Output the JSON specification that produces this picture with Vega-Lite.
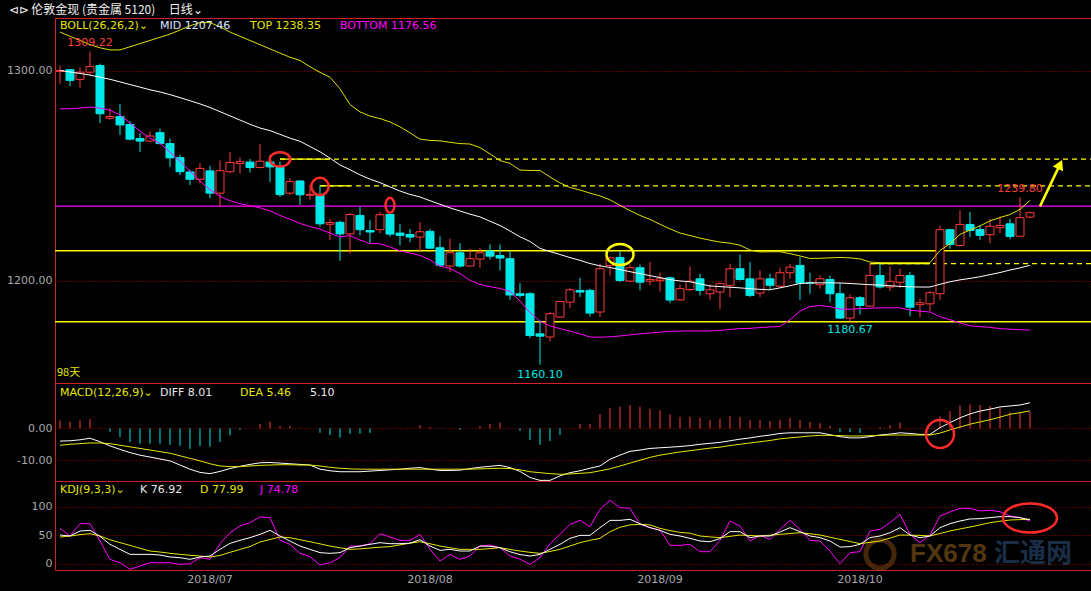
{
"$schema":"https://vega.github.io/schema/vega-lite/v6.json",
"background":"#000000",
"padding":{"top":3,"left":0,"right":0,"bottom":0},
"title":{"text":"⊲⊳ 伦敦金现 (贵金属 5120)\u00a0\u00a0\u00a0\u00a0\u00a0日线⌄","anchor":"start","frame":"bounds","offset":4,"fontSize":12,"font":"Noto Sans CJK SC","fontWeight":"normal","color":"#f0f0f0","dx":8,"dy":3,"baseline":"top"},
"spacing":0,
"bounds":"flush",
"resolve":{"scale":{"color":"independent"}},
"datasets":{
"future":[{"date":"2018-10-25"},{"date":"2018-10-26"},{"date":"2018-10-29"},{"date":"2018-10-30"},{"date":"2018-10-31"}],
"k":[
{"date":"2018-06-11","o":1299.8,"h":1302.6,"l":1293.9,"c":1300.2,"mid":1300.2,"top":1318.5,"bot":1282.0,"diff":-4.0,"dea":-5.3,"macd":2.5,"K":50.3,"D":46.8,"J":62.0},
{"date":"2018-06-12","o":1300.6,"h":1300.9,"l":1292.8,"c":1295.5,"mid":1299.5,"top":1316.5,"bot":1282.0,"diff":-3.9,"dea":-5.0,"macd":2.1,"K":48.6,"D":48.5,"J":48.6},
{"date":"2018-06-13","o":1296.0,"h":1301.7,"l":1292.0,"c":1299.4,"mid":1298.8,"top":1314.5,"bot":1282.3,"diff":-3.6,"dea":-4.8,"macd":2.5,"K":57.3,"D":51.0,"J":70.2},
{"date":"2018-06-14","o":1299.4,"h":1309.22,"l":1298.0,"c":1302.1,"mid":1298.0,"top":1312.5,"bot":1282.8,"diff":-3.1,"dea":-4.6,"macd":2.9,"K":58.5,"D":52.7,"J":70.2},
{"date":"2018-06-15","o":1302.6,"h":1303.5,"l":1275.2,"c":1279.6,"mid":1297.0,"top":1311.0,"bot":1282.3,"diff":-4.2,"dea":-4.6,"macd":0.1,"K":48.0,"D":48.6,"J":39.8},
{"date":"2018-06-18","o":1277.5,"h":1282.4,"l":1276.7,"c":1278.3,"mid":1296.0,"top":1310.0,"bot":1281.3,"diff":-5.5,"dea":-4.8,"macd":-1.1,"K":34.0,"D":42.0,"J":7.7},
{"date":"2018-06-19","o":1278.3,"h":1284.3,"l":1269.5,"c":1274.3,"mid":1294.8,"top":1310.0,"bot":1279.0,"diff":-6.6,"dea":-5.3,"macd":-2.7,"K":25.2,"D":37.0,"J":1.8},
{"date":"2018-06-20","o":1274.5,"h":1276.1,"l":1267.0,"c":1267.5,"mid":1293.5,"top":1311.5,"bot":1275.2,"diff":-7.6,"dea":-5.8,"macd":-4.3,"K":16.4,"D":32.2,"J":-9.9},
{"date":"2018-06-21","o":1267.8,"h":1270.4,"l":1261.4,"c":1266.6,"mid":1292.3,"top":1313.0,"bot":1271.3,"diff":-8.4,"dea":-6.3,"macd":-4.8,"K":16.4,"D":27.0,"J":-4.0},
{"date":"2018-06-22","o":1266.6,"h":1271.2,"l":1266.2,"c":1269.0,"mid":1291.0,"top":1314.5,"bot":1268.0,"diff":-9.0,"dea":-6.8,"macd":-4.8,"K":16.4,"D":22.3,"J":1.8},
{"date":"2018-06-25","o":1270.6,"h":1272.5,"l":1265.0,"c":1265.4,"mid":1290.0,"top":1316.0,"bot":1265.5,"diff":-9.6,"dea":-7.3,"macd":-4.8,"K":15.3,"D":20.5,"J":1.8},
{"date":"2018-06-26","o":1265.4,"h":1267.8,"l":1254.3,"c":1258.6,"mid":1288.7,"top":1317.5,"bot":1261.3,"diff":-10.2,"dea":-7.8,"macd":-5.2,"K":11.8,"D":18.3,"J":1.8},
{"date":"2018-06-27","o":1258.7,"h":1260.1,"l":1250.4,"c":1252.0,"mid":1287.3,"top":1319.5,"bot":1257.0,"diff":-11.5,"dea":-8.6,"macd":-5.5,"K":10.6,"D":16.4,"J":-1.1},
{"date":"2018-06-28","o":1251.9,"h":1252.9,"l":1245.7,"c":1248.4,"mid":1285.8,"top":1321.5,"bot":1252.3,"diff":-12.8,"dea":-9.4,"macd":-6.4,"K":7.7,"D":14.8,"J":0.0},
{"date":"2018-06-29","o":1248.4,"h":1256.0,"l":1246.5,"c":1253.6,"mid":1284.3,"top":1323.0,"bot":1247.5,"diff":-13.8,"dea":-10.2,"macd":-5.5,"K":11.8,"D":13.5,"J":10.6},
{"date":"2018-07-02","o":1252.4,"h":1254.8,"l":1239.4,"c":1241.8,"mid":1282.6,"top":1323.0,"bot":1243.5,"diff":-14.2,"dea":-11.1,"macd":-5.7,"K":13.5,"D":11.8,"J":7.7},
{"date":"2018-07-03","o":1241.8,"h":1257.4,"l":1235.4,"c":1252.5,"mid":1280.6,"top":1321.0,"bot":1240.2,"diff":-13.5,"dea":-11.8,"macd":-4.3,"K":25.2,"D":14.5,"J":35.1},
{"date":"2018-07-04","o":1252.0,"h":1261.4,"l":1251.5,"c":1256.4,"mid":1278.6,"top":1318.5,"bot":1238.2,"diff":-12.6,"dea":-12.0,"macd":-2.2,"K":35.7,"D":20.0,"J":54.4},
{"date":"2018-07-05","o":1255.9,"h":1258.9,"l":1251.1,"c":1256.8,"mid":1276.6,"top":1316.5,"bot":1236.8,"diff":-11.9,"dea":-12.0,"macd":-0.5,"K":41.0,"D":25.0,"J":66.1},
{"date":"2018-07-06","o":1256.6,"h":1258.0,"l":1251.6,"c":1254.0,"mid":1274.6,"top":1314.5,"bot":1235.8,"diff":-11.3,"dea":-11.8,"macd":0.0,"K":45.7,"D":30.0,"J":72.0},
{"date":"2018-07-09","o":1254.0,"h":1265.3,"l":1253.6,"c":1257.0,"mid":1272.8,"top":1312.5,"bot":1234.8,"diff":-10.8,"dea":-11.6,"macd":1.4,"K":51.5,"D":38.1,"J":81.9},
{"date":"2018-07-10","o":1256.6,"h":1259.9,"l":1247.1,"c":1254.3,"mid":1271.6,"top":1310.5,"bot":1233.4,"diff":-10.7,"dea":-11.5,"macd":2.1,"K":58.5,"D":42.5,"J":80.8},
{"date":"2018-07-11","o":1254.3,"h":1256.8,"l":1240.0,"c":1241.1,"mid":1269.8,"top":1308.5,"bot":1231.2,"diff":-10.9,"dea":-11.4,"macd":0.7,"K":48.6,"D":46.8,"J":41.0},
{"date":"2018-07-12","o":1241.8,"h":1248.9,"l":1241.0,"c":1247.3,"mid":1268.0,"top":1306.5,"bot":1229.3,"diff":-11.1,"dea":-11.4,"macd":0.7,"K":39.8,"D":45.6,"J":34.0},
{"date":"2018-07-13","o":1247.6,"h":1248.0,"l":1236.2,"c":1241.0,"mid":1266.5,"top":1305.0,"bot":1227.4,"diff":-11.3,"dea":-11.5,"macd":0.1,"K":31.0,"D":42.0,"J":18.2},
{"date":"2018-07-16","o":1240.8,"h":1245.7,"l":1238.6,"c":1241.2,"mid":1264.0,"top":1302.0,"bot":1225.9,"diff":-11.5,"dea":-11.5,"macd":0.0,"K":25.2,"D":38.6,"J":12.3},
{"date":"2018-07-17","o":1241.0,"h":1245.7,"l":1225.9,"c":1227.2,"mid":1261.5,"top":1299.3,"bot":1224.6,"diff":-12.8,"dea":-11.8,"macd":-1.4,"K":19.4,"D":34.8,"J":-2.3},
{"date":"2018-07-18","o":1227.0,"h":1229.4,"l":1219.4,"c":1227.8,"mid":1258.5,"top":1297.0,"bot":1222.8,"diff":-13.3,"dea":-12.2,"macd":-2.1,"K":18.2,"D":31.0,"J":1.8},
{"date":"2018-07-19","o":1227.9,"h":1228.7,"l":1209.6,"c":1222.4,"mid":1255.2,"top":1291.5,"bot":1220.9,"diff":-13.6,"dea":-12.5,"macd":-2.9,"K":19.4,"D":28.0,"J":10.6},
{"date":"2018-07-20","o":1222.4,"h":1232.4,"l":1213.1,"c":1231.6,"mid":1253.0,"top":1284.0,"bot":1221.6,"diff":-13.6,"dea":-12.7,"macd":-1.7,"K":28.1,"D":25.2,"J":31.0},
{"date":"2018-07-23","o":1231.2,"h":1235.2,"l":1221.7,"c":1224.4,"mid":1250.5,"top":1280.5,"bot":1219.4,"diff":-13.6,"dea":-12.8,"macd":-1.7,"K":31.0,"D":26.0,"J":31.0},
{"date":"2018-07-24","o":1224.0,"h":1229.1,"l":1217.7,"c":1223.3,"mid":1248.5,"top":1278.5,"bot":1217.8,"diff":-13.4,"dea":-12.8,"macd":-1.4,"K":34.0,"D":27.5,"J":35.1},
{"date":"2018-07-25","o":1224.4,"h":1232.8,"l":1222.8,"c":1231.5,"mid":1246.8,"top":1277.3,"bot":1217.7,"diff":-13.2,"dea":-12.8,"macd":0.0,"K":36.9,"D":29.0,"J":52.7},
{"date":"2018-07-26","o":1231.7,"h":1232.0,"l":1221.2,"c":1222.3,"mid":1244.8,"top":1275.7,"bot":1216.2,"diff":-13.0,"dea":-12.8,"macd":0.0,"K":35.1,"D":29.9,"J":46.8},
{"date":"2018-07-27","o":1222.8,"h":1227.2,"l":1216.9,"c":1221.7,"mid":1242.8,"top":1273.4,"bot":1214.3,"diff":-12.8,"dea":-12.8,"macd":0.1,"K":35.1,"D":33.0,"J":40.9},
{"date":"2018-07-30","o":1222.1,"h":1224.8,"l":1218.5,"c":1220.9,"mid":1241.2,"top":1270.5,"bot":1213.3,"diff":-12.5,"dea":-12.8,"macd":0.1,"K":36.0,"D":36.0,"J":40.9},
{"date":"2018-07-31","o":1220.9,"h":1228.0,"l":1214.2,"c":1223.4,"mid":1240.0,"top":1267.5,"bot":1212.2,"diff":-12.3,"dea":-12.8,"macd":1.0,"K":42.2,"D":38.6,"J":51.5},
{"date":"2018-08-01","o":1223.6,"h":1224.8,"l":1215.3,"c":1215.6,"mid":1238.2,"top":1266.9,"bot":1210.0,"diff":-12.8,"dea":-12.8,"macd":0.4,"K":31.0,"D":35.0,"J":25.2},
{"date":"2018-08-02","o":1215.8,"h":1221.2,"l":1206.6,"c":1207.5,"mid":1236.5,"top":1266.7,"bot":1207.1,"diff":-13.2,"dea":-12.8,"macd":-0.1,"K":23.4,"D":31.0,"J":4.7},
{"date":"2018-08-03","o":1207.1,"h":1220.1,"l":1204.2,"c":1213.4,"mid":1234.8,"top":1266.0,"bot":1205.9,"diff":-13.2,"dea":-12.8,"macd":0.0,"K":25.2,"D":28.0,"J":16.4},
{"date":"2018-08-06","o":1213.4,"h":1218.0,"l":1206.3,"c":1207.1,"mid":1233.3,"top":1265.4,"bot":1203.5,"diff":-13.1,"dea":-12.8,"macd":-0.5,"K":22.3,"D":25.2,"J":7.7},
{"date":"2018-08-07","o":1207.1,"h":1215.3,"l":1206.8,"c":1210.6,"mid":1231.8,"top":1265.2,"bot":1200.3,"diff":-12.6,"dea":-12.8,"macd":0.0,"K":22.3,"D":25.2,"J":13.5},
{"date":"2018-08-08","o":1210.4,"h":1215.8,"l":1206.3,"c":1213.4,"mid":1230.5,"top":1263.5,"bot":1198.3,"diff":-12.2,"dea":-12.7,"macd":0.7,"K":31.0,"D":25.2,"J":31.0},
{"date":"2018-08-09","o":1214.2,"h":1217.4,"l":1210.2,"c":1211.8,"mid":1228.4,"top":1260.5,"bot":1197.3,"diff":-11.9,"dea":-12.6,"macd":1.4,"K":30.5,"D":26.5,"J":32.8},
{"date":"2018-08-10","o":1212.1,"h":1217.4,"l":1205.0,"c":1210.9,"mid":1226.4,"top":1257.3,"bot":1196.4,"diff":-11.6,"dea":-12.5,"macd":1.8,"K":28.1,"D":28.1,"J":28.1},
{"date":"2018-08-13","o":1210.6,"h":1214.2,"l":1191.0,"c":1193.3,"mid":1223.8,"top":1256.0,"bot":1195.0,"diff":-12.3,"dea":-12.6,"macd":0.0,"K":21.0,"D":25.0,"J":13.5},
{"date":"2018-08-14","o":1193.9,"h":1199.0,"l":1192.0,"c":1193.1,"mid":1221.0,"top":1252.8,"bot":1190.5,"diff":-13.5,"dea":-13.0,"macd":-0.8,"K":16.0,"D":22.3,"J":8.0},
{"date":"2018-08-15","o":1193.9,"h":1194.7,"l":1172.9,"c":1174.0,"mid":1218.8,"top":1252.6,"bot":1185.0,"diff":-15.4,"dea":-13.6,"macd":-3.7,"K":13.5,"D":20.0,"J":-1.1},
{"date":"2018-08-16","o":1174.8,"h":1181.2,"l":1160.1,"c":1173.7,"mid":1215.5,"top":1252.6,"bot":1180.8,"diff":-16.3,"dea":-13.9,"macd":-5.2,"K":16.4,"D":18.2,"J":10.6},
{"date":"2018-08-17","o":1173.3,"h":1185.2,"l":1171.3,"c":1184.4,"mid":1214.0,"top":1249.5,"bot":1178.6,"diff":-16.3,"dea":-14.2,"macd":-4.0,"K":25.2,"D":21.5,"J":35.1},
{"date":"2018-08-20","o":1182.8,"h":1190.7,"l":1182.5,"c":1190.2,"mid":1212.6,"top":1246.7,"bot":1177.3,"diff":-14.9,"dea":-14.4,"macd":-2.1,"K":34.0,"D":25.2,"J":51.5},
{"date":"2018-08-21","o":1189.9,"h":1196.6,"l":1187.1,"c":1195.8,"mid":1211.1,"top":1244.5,"bot":1176.1,"diff":-13.9,"dea":-14.3,"macd":0.0,"K":44.5,"D":31.0,"J":69.0},
{"date":"2018-08-22","o":1195.5,"h":1201.5,"l":1192.3,"c":1194.7,"mid":1209.8,"top":1243.3,"bot":1174.8,"diff":-13.3,"dea":-14.1,"macd":1.4,"K":49.7,"D":36.9,"J":76.0},
{"date":"2018-08-23","o":1195.5,"h":1196.3,"l":1183.1,"c":1184.7,"mid":1208.3,"top":1241.8,"bot":1173.3,"diff":-12.5,"dea":-13.9,"macd":1.4,"K":49.7,"D":41.0,"J":64.9},
{"date":"2018-08-24","o":1185.2,"h":1208.2,"l":1182.8,"c":1205.8,"mid":1207.2,"top":1240.5,"bot":1173.2,"diff":-11.8,"dea":-13.3,"macd":4.4,"K":63.2,"D":44.5,"J":95.4},
{"date":"2018-08-27","o":1207.4,"h":1211.7,"l":1202.6,"c":1211.0,"mid":1206.4,"top":1238.6,"bot":1173.4,"diff":-9.7,"dea":-12.7,"macd":6.4,"K":76.0,"D":56.0,"J":111.2},
{"date":"2018-08-28","o":1211.2,"h":1214.2,"l":1199.4,"c":1200.2,"mid":1205.4,"top":1236.0,"bot":1173.8,"diff":-8.4,"dea":-11.8,"macd":6.8,"K":76.0,"D":64.0,"J":98.3},
{"date":"2018-08-29","o":1199.9,"h":1207.9,"l":1199.4,"c":1206.3,"mid":1204.4,"top":1233.5,"bot":1174.3,"diff":-7.2,"dea":-10.9,"macd":7.3,"K":77.8,"D":68.0,"J":97.1},
{"date":"2018-08-30","o":1206.3,"h":1207.9,"l":1195.5,"c":1199.4,"mid":1203.5,"top":1231.2,"bot":1174.8,"diff":-6.8,"dea":-10.0,"macd":6.8,"K":70.2,"D":69.0,"J":69.0},
{"date":"2018-08-31","o":1199.9,"h":1209.0,"l":1197.9,"c":1200.7,"mid":1202.5,"top":1229.3,"bot":1175.2,"diff":-6.3,"dea":-9.1,"macd":6.1,"K":63.2,"D":68.0,"J":63.2},
{"date":"2018-09-03","o":1200.1,"h":1204.0,"l":1195.0,"c":1201.0,"mid":1201.6,"top":1227.0,"bot":1175.6,"diff":-6.1,"dea":-8.4,"macd":5.7,"K":58.5,"D":62.0,"J":59.1},
{"date":"2018-09-04","o":1201.5,"h":1202.1,"l":1189.4,"c":1190.9,"mid":1200.6,"top":1224.8,"bot":1176.0,"diff":-5.9,"dea":-7.9,"macd":4.4,"K":51.5,"D":58.0,"J":32.2},
{"date":"2018-09-05","o":1191.0,"h":1198.3,"l":1190.4,"c":1196.3,"mid":1200.0,"top":1222.8,"bot":1176.1,"diff":-5.7,"dea":-7.4,"macd":3.6,"K":48.6,"D":55.0,"J":32.2},
{"date":"2018-09-06","o":1195.9,"h":1206.9,"l":1195.2,"c":1199.9,"mid":1199.6,"top":1221.6,"bot":1176.2,"diff":-5.4,"dea":-7.0,"macd":3.6,"K":44.5,"D":53.5,"J":34.0},
{"date":"2018-09-07","o":1201.0,"h":1203.4,"l":1193.1,"c":1195.5,"mid":1198.6,"top":1220.4,"bot":1176.2,"diff":-5.0,"dea":-6.6,"macd":3.3,"K":39.8,"D":48.6,"J":21.1},
{"date":"2018-09-10","o":1193.9,"h":1198.3,"l":1191.0,"c":1195.8,"mid":1197.6,"top":1219.4,"bot":1176.2,"diff":-4.7,"dea":-6.2,"macd":2.6,"K":38.6,"D":47.0,"J":21.1},
{"date":"2018-09-11","o":1194.7,"h":1199.4,"l":1186.7,"c":1198.7,"mid":1197.3,"top":1218.5,"bot":1176.4,"diff":-4.4,"dea":-5.9,"macd":3.0,"K":44.0,"D":45.7,"J":40.9},
{"date":"2018-09-12","o":1197.9,"h":1208.2,"l":1192.3,"c":1205.8,"mid":1197.0,"top":1218.0,"bot":1176.9,"diff":-3.9,"dea":-5.4,"macd":3.8,"K":56.2,"D":48.0,"J":74.9},
{"date":"2018-09-13","o":1205.8,"h":1212.6,"l":1200.2,"c":1200.7,"mid":1196.7,"top":1217.0,"bot":1177.3,"diff":-3.4,"dea":-5.0,"macd":3.6,"K":56.2,"D":50.3,"J":66.1},
{"date":"2018-09-14","o":1201.0,"h":1209.0,"l":1192.3,"c":1193.1,"mid":1196.3,"top":1214.7,"bot":1177.4,"diff":-3.0,"dea":-4.6,"macd":2.6,"K":45.7,"D":49.5,"J":39.8},
{"date":"2018-09-17","o":1194.2,"h":1205.0,"l":1192.3,"c":1201.0,"mid":1196.0,"top":1213.8,"bot":1177.8,"diff":-2.5,"dea":-4.2,"macd":2.6,"K":48.6,"D":48.6,"J":49.7},
{"date":"2018-09-18","o":1201.0,"h":1203.4,"l":1195.8,"c":1197.9,"mid":1195.8,"top":1213.9,"bot":1178.1,"diff":-2.1,"dea":-3.8,"macd":2.3,"K":48.6,"D":50.0,"J":42.7},
{"date":"2018-09-19","o":1197.5,"h":1206.3,"l":1197.1,"c":1203.9,"mid":1196.7,"top":1213.9,"bot":1178.3,"diff":-1.6,"dea":-3.3,"macd":2.6,"K":55.6,"D":51.5,"J":60.2},
{"date":"2018-09-20","o":1203.9,"h":1208.2,"l":1201.0,"c":1206.6,"mid":1197.7,"top":1213.0,"bot":1181.6,"diff":-1.4,"dea":-3.0,"macd":3.3,"K":63.2,"D":53.0,"J":76.0},
{"date":"2018-09-21","o":1207.4,"h":1211.3,"l":1191.0,"c":1199.0,"mid":1198.8,"top":1211.9,"bot":1185.6,"diff":-1.4,"dea":-2.7,"macd":2.6,"K":56.2,"D":54.4,"J":60.2},
{"date":"2018-09-24","o":1199.2,"h":1203.9,"l":1193.9,"c":1199.0,"mid":1199.0,"top":1210.7,"bot":1187.8,"diff":-1.4,"dea":-2.4,"macd":2.0,"K":48.6,"D":52.5,"J":40.9},
{"date":"2018-09-25","o":1198.2,"h":1202.6,"l":1196.3,"c":1201.0,"mid":1199.1,"top":1210.8,"bot":1188.3,"diff":-1.4,"dea":-2.2,"macd":1.6,"K":45.7,"D":50.3,"J":39.8},
{"date":"2018-09-26","o":1200.7,"h":1202.6,"l":1189.9,"c":1193.9,"mid":1199.1,"top":1211.0,"bot":1187.7,"diff":-2.0,"dea":-2.2,"macd":0.7,"K":39.8,"D":46.5,"J":22.3},
{"date":"2018-09-27","o":1193.9,"h":1199.0,"l":1181.8,"c":1182.3,"mid":1199.0,"top":1211.2,"bot":1186.6,"diff":-2.6,"dea":-2.3,"macd":-1.2,"K":29.2,"D":42.7,"J":0.0},
{"date":"2018-09-28","o":1182.3,"h":1193.6,"l":1180.67,"c":1192.0,"mid":1198.8,"top":1211.0,"bot":1186.5,"diff":-3.0,"dea":-2.4,"macd":-1.2,"K":29.9,"D":39.0,"J":19.4},
{"date":"2018-10-01","o":1192.0,"h":1192.8,"l":1184.0,"c":1188.3,"mid":1198.5,"top":1210.5,"bot":1186.8,"diff":-3.0,"dea":-2.4,"macd":-1.4,"K":34.0,"D":35.1,"J":21.1},
{"date":"2018-10-02","o":1188.0,"h":1208.2,"l":1187.9,"c":1202.6,"mid":1198.2,"top":1209.0,"bot":1187.0,"diff":-2.6,"dea":-2.3,"macd":0.1,"K":45.7,"D":37.5,"J":57.3},
{"date":"2018-10-03","o":1202.6,"h":1208.2,"l":1196.3,"c":1197.1,"mid":1198.0,"top":1208.7,"bot":1187.2,"diff":-2.1,"dea":-2.2,"macd":0.4,"K":48.6,"D":39.8,"J":60.2},
{"date":"2018-10-04","o":1197.1,"h":1206.9,"l":1195.2,"c":1199.8,"mid":1197.7,"top":1208.7,"bot":1187.2,"diff":-1.8,"dea":-2.1,"macd":1.0,"K":54.4,"D":45.0,"J":71.9},
{"date":"2018-10-05","o":1199.4,"h":1205.8,"l":1196.6,"c":1202.6,"mid":1197.4,"top":1208.7,"bot":1187.2,"diff":-1.4,"dea":-2.1,"macd":1.8,"K":63.2,"D":50.3,"J":86.5},
{"date":"2018-10-08","o":1202.6,"h":1204.2,"l":1183.1,"c":1187.5,"mid":1197.2,"top":1208.7,"bot":1186.1,"diff":-1.6,"dea":-2.1,"macd":0.1,"K":50.3,"D":50.0,"J":51.5},
{"date":"2018-10-09","o":1188.7,"h":1191.5,"l":1182.8,"c":1189.6,"mid":1197.1,"top":1208.7,"bot":1185.6,"diff":-1.9,"dea":-2.1,"macd":0.0,"K":45.7,"D":49.7,"J":36.9},
{"date":"2018-10-10","o":1189.1,"h":1195.2,"l":1185.6,"c":1194.4,"mid":1197.1,"top":1208.7,"bot":1185.2,"diff":-1.9,"dea":-2.1,"macd":0.1,"K":48.6,"D":48.6,"J":50.3},
{"date":"2018-10-11","o":1193.9,"h":1226.4,"l":1191.0,"c":1224.4,"mid":1198.4,"top":1214.5,"bot":1183.0,"diff":0.2,"dea":-1.5,"macd":3.8,"K":63.2,"D":53.0,"J":83.7},
{"date":"2018-10-12","o":1224.4,"h":1224.8,"l":1215.3,"c":1217.4,"mid":1199.6,"top":1217.7,"bot":1181.5,"diff":1.8,"dea":-0.5,"macd":5.4,"K":70.2,"D":57.3,"J":90.7},
{"date":"2018-10-15","o":1216.9,"h":1233.6,"l":1216.4,"c":1226.9,"mid":1200.5,"top":1222.2,"bot":1180.0,"diff":3.3,"dea":0.4,"macd":7.2,"K":74.9,"D":61.0,"J":97.1},
{"date":"2018-10-16","o":1226.9,"h":1232.8,"l":1220.9,"c":1224.0,"mid":1201.2,"top":1224.2,"bot":1178.6,"diff":4.5,"dea":1.3,"macd":7.5,"K":78.4,"D":64.3,"J":97.1},
{"date":"2018-10-17","o":1224.5,"h":1226.4,"l":1219.6,"c":1221.7,"mid":1202.0,"top":1226.2,"bot":1178.2,"diff":5.4,"dea":2.0,"macd":7.3,"K":79.0,"D":68.0,"J":92.5},
{"date":"2018-10-18","o":1222.0,"h":1229.6,"l":1218.0,"c":1226.0,"mid":1203.0,"top":1228.6,"bot":1177.9,"diff":6.0,"dea":2.7,"macd":7.0,"K":80.8,"D":71.9,"J":93.6},
{"date":"2018-10-19","o":1225.3,"h":1230.7,"l":1222.8,"c":1226.4,"mid":1204.0,"top":1230.2,"bot":1177.3,"diff":6.7,"dea":3.5,"macd":6.4,"K":82.5,"D":74.5,"J":91.3},
{"date":"2018-10-22","o":1227.2,"h":1229.6,"l":1219.8,"c":1221.2,"mid":1205.2,"top":1231.6,"bot":1177.0,"diff":7.0,"dea":4.4,"macd":5.1,"K":82.5,"D":76.6,"J":83.7},
{"date":"2018-10-23","o":1221.3,"h":1239.8,"l":1221.3,"c":1230.1,"mid":1206.2,"top":1234.1,"bot":1176.8,"diff":7.3,"dea":4.9,"macd":4.9,"K":80.8,"D":77.3,"J":80.8},
{"date":"2018-10-24","o":1230.4,"h":1233.1,"l":1229.9,"c":1232.5,"mid":1207.46,"top":1238.35,"bot":1176.56,"diff":8.01,"dea":5.46,"macd":5.1,"K":76.92,"D":77.99,"J":74.78}
]},
"vconcat":[
{
"width":1037,"height":365,
"resolve":{"scale":{"color":"independent"}},
"layer":[
{"data":{"name":"future"},"mark":{"type":"rule","strokeOpacity":0},"encoding":{"x":{"field":"date","type":"ordinal","scale":{"type":"band","paddingInner":0.2,"paddingOuter":0.45,"align":0.111,"round":false},"axis":null}}},
{"data":{"values":[{"v":1214.4},{"v":1180.6}]},"mark":{"type":"rule","color":"#ffff00","strokeWidth":1.5},"encoding":{"y":{"field":"v","type":"quantitative","scale":{"domain":[1151.4,1325.2],"nice":false,"zero":false},"axis":{"values":[1200,1300],"format":".2f","grid":true},"title":null}}},
{"data":{"values":[{"v":1235.6}]},"mark":{"type":"rule","color":"#ff00ff","strokeWidth":1.2},"encoding":{"y":{"field":"v","type":"quantitative","title":null}}},
{"data":{"values":[{"date":"2018-07-11","v":1258.0},{"date":"2018-07-17","v":1245.3},{"date":"2018-10-02","v":1208.2}]},"mark":{"type":"rule","color":"#ffff00","strokeWidth":1.3,"strokeDash":[5,4]},"encoding":{"x":{"field":"date","type":"ordinal","axis":null},"x2":{"value":"width"},"y":{"field":"v","type":"quantitative","title":null}}},
{"data":{"values":[{"date":"2018-07-11","end":"2018-07-18","v":1258.0},{"date":"2018-07-17","end":"2018-07-20","v":1245.3},{"date":"2018-10-02","end":"2018-10-10","v":1208.2}]},"mark":{"type":"rule","color":"#ffff00","strokeWidth":1.3},"encoding":{"x":{"field":"date","type":"ordinal","axis":null},"x2":{"field":"end"},"y":{"field":"v","type":"quantitative","title":null}}},
{"data":{"name":"k"},"mark":{"type":"rule","strokeWidth":1},"encoding":{"x":{"field":"date","type":"ordinal","axis":null},"y":{"field":"l","type":"quantitative","title":null},"y2":{"field":"h"},"color":{"condition":{"test":"datum.c >= datum.o","value":"#ff3c3c"},"value":"#00e8e8"}}},
{"data":{"name":"k"},"mark":{"type":"bar","strokeWidth":1},"encoding":{"x":{"field":"date","type":"ordinal","axis":null},"y":{"field":"o","type":"quantitative","title":null},"y2":{"field":"c"},"fill":{"condition":{"test":"datum.c >= datum.o","value":"#000000"},"value":"#00e8e8"},"stroke":{"condition":{"test":"datum.c >= datum.o","value":"#ff3c3c"},"value":"#00e8e8"}}},
{"data":{"name":"k"},"mark":{"type":"line","color":"#ffffff","strokeWidth":1,"clip":true},"encoding":{"x":{"field":"date","type":"ordinal","axis":null},"y":{"field":"mid","type":"quantitative","title":null}}},
{"data":{"name":"k"},"mark":{"type":"line","color":"#e0e000","strokeWidth":1,"clip":true},"encoding":{"x":{"field":"date","type":"ordinal","axis":null},"y":{"field":"top","type":"quantitative","title":null}}},
{"data":{"name":"k"},"mark":{"type":"line","color":"#ff00ff","strokeWidth":1,"clip":true},"encoding":{"x":{"field":"date","type":"ordinal","axis":null},"y":{"field":"bot","type":"quantitative","title":null}}},
{"data":{"values":[{"date":"2018-06-11","text":"BOLL(26,26,2)⌄","series":"BOLL"},{"date":"2018-06-25","text":"MID 1207.46","series":"MID"},{"date":"2018-07-06","text":"TOP 1238.35","series":"TOP"},{"date":"2018-07-19","text":"BOTTOM 1176.56","series":"BOTTOM"}]},"mark":{"type":"text","align":"left","baseline":"middle","fontSize":11},"encoding":{"x":{"field":"date","type":"ordinal","axis":null},"y":{"datum":1321.2,"type":"quantitative"},"text":{"field":"text"},"color":{"field":"series","type":"nominal","scale":{"domain":["BOLL","MID","TOP","BOTTOM"],"range":["#e6e600","#dce6ff","#e6e600","#ff00ff"]},"legend":null}}},
{"data":{"values":[{"date":"2018-06-14","v":1313.1,"text":"1309.22","kind":"high"},{"date":"2018-08-16","v":1155.0,"text":"1160.10","kind":"low"},{"date":"2018-09-28","v":1176.4,"text":"1180.67","kind":"low"},{"date":"2018-10-23","v":1243.6,"text":"1239.80","kind":"high"}]},"mark":{"type":"text","align":"center","baseline":"middle","fontSize":11},"encoding":{"x":{"field":"date","type":"ordinal","axis":null},"y":{"field":"v","type":"quantitative","title":null},"text":{"field":"text"},"color":{"condition":{"test":"datum.kind == 'high'","value":"#ff3c3c"},"value":"#00e8e8"}}},
{"data":{"values":[{"date":"2018-06-11","v":1156.0,"text":"98天"}]},"mark":{"type":"text","align":"left","baseline":"middle","fontSize":11,"color":"#e6e600","font":"Noto Sans CJK SC","dx":-3},"encoding":{"x":{"field":"date","type":"ordinal","axis":null},"y":{"field":"v","type":"quantitative","title":null},"text":{"field":"text"}}},
{"data":{"values":[{"date":"2018-07-11","v":1257.9}]},"mark":{"type":"point","shape":"M-1,0A1,0.7,0,1,1,1,0A1,0.7,0,1,1,-1,0Z","size":420,"filled":false,"stroke":"#ff2a2a","strokeWidth":2.5,"opacity":1},"encoding":{"x":{"field":"date","type":"ordinal","axis":null},"y":{"field":"v","type":"quantitative","title":null}}},
{"data":{"values":[{"date":"2018-07-17","v":1245.0}]},"mark":{"type":"point","shape":"circle","size":300,"filled":false,"stroke":"#ff2a2a","strokeWidth":2.5,"opacity":1},"encoding":{"x":{"field":"date","type":"ordinal","axis":null},"y":{"field":"v","type":"quantitative","title":null}}},
{"data":{"values":[{"date":"2018-07-26","v":1236.0}]},"mark":{"type":"point","shape":"M0,-1A0.6,1,0,1,1,0,1A0.6,1,0,1,1,0,-1Z","size":225,"filled":false,"stroke":"#ff2a2a","strokeWidth":2.5,"opacity":1},"encoding":{"x":{"field":"date","type":"ordinal","axis":null},"y":{"field":"v","type":"quantitative","title":null}}},
{"data":{"values":[{"date":"2018-08-28","v":1212.6}]},"mark":{"type":"point","shape":"M-1,0A1,0.78,0,1,1,1,0A1,0.78,0,1,1,-1,0Z","size":729,"filled":false,"stroke":"#ffff00","strokeWidth":2.5,"opacity":1},"encoding":{"x":{"field":"date","type":"ordinal","axis":null},"y":{"field":"v","type":"quantitative","title":null}}},
{"data":{"values":[{"date":"2018-10-25","end":"2018-10-29","v":1235.5,"v2":1255.5}]},"mark":{"type":"rule","color":"#ffff00","strokeWidth":2.5},"encoding":{"x":{"field":"date","type":"ordinal","axis":null},"x2":{"field":"end"},"y":{"field":"v","type":"quantitative","title":null},"y2":{"field":"v2"}}},
{"data":{"values":[{"date":"2018-10-29","v":1255.5}]},"mark":{"type":"point","shape":"triangle-up","size":130,"filled":true,"color":"#ffff00","opacity":1,"angle":25},"encoding":{"x":{"field":"date","type":"ordinal","axis":null},"y":{"field":"v","type":"quantitative","title":null}}}
]
},
{
"width":1037,"height":98,
"layer":[
{"data":{"name":"future"},"mark":{"type":"rule","strokeOpacity":0},"encoding":{"x":{"field":"date","type":"ordinal","scale":{"type":"band","paddingInner":0.2,"paddingOuter":0.45,"align":0.111,"round":false},"axis":null}}},
{"data":{"name":"k"},"mark":{"type":"rule","strokeWidth":1},"encoding":{"x":{"field":"date","type":"ordinal","axis":null},"y":{"field":"macd","type":"quantitative","scale":{"domain":[-16.5,14.2],"nice":false,"zero":false},"axis":{"values":[0,-10],"labelExpr":"replace(format(datum.value,'.2f'),'−','-')","grid":true},"title":null},"y2":{"datum":0},"color":{"condition":{"test":"datum.macd >= 0","value":"#ff3c3c"},"value":"#00e8e8"}}},
{"data":{"name":"k"},"mark":{"type":"line","color":"#ffffff","strokeWidth":1},"encoding":{"x":{"field":"date","type":"ordinal","axis":null},"y":{"field":"diff","type":"quantitative","title":null}}},
{"data":{"name":"k"},"mark":{"type":"line","color":"#e6e600","strokeWidth":1},"encoding":{"x":{"field":"date","type":"ordinal","axis":null},"y":{"field":"dea","type":"quantitative","title":null}}},
{"data":{"values":[{"date":"2018-06-11","text":"MACD(12,26,9)⌄","series":"MACD"},{"date":"2018-06-25","text":"DIFF 8.01","series":"DIFF"},{"date":"2018-07-05","text":"DEA 5.46","series":"DEA"},{"date":"2018-07-16","text":"5.10","series":"HIST"}]},"mark":{"type":"text","align":"left","baseline":"middle","fontSize":11},"encoding":{"x":{"field":"date","type":"ordinal","axis":null},"y":{"datum":11.1,"type":"quantitative"},"text":{"field":"text"},"color":{"field":"series","type":"nominal","scale":{"domain":["MACD","DIFF","DEA","HIST"],"range":["#e6e600","#e8e8e8","#e6e600","#e8e8e8"]},"legend":null}}},
{"data":{"values":[{"date":"2018-10-11","v":-1.8}]},"mark":{"type":"point","shape":"circle","size":784,"filled":false,"stroke":"#ff2a2a","strokeWidth":2.5,"opacity":1},"encoding":{"x":{"field":"date","type":"ordinal","axis":null},"y":{"field":"v","type":"quantitative","title":null}}}
]
},
{
"width":1037,"height":89,
"layer":[
{"data":{"name":"future"},"mark":{"type":"rule","strokeOpacity":0},"encoding":{"x":{"field":"date","type":"ordinal","scale":{"type":"band","paddingInner":0.2,"paddingOuter":0.45,"align":0.111,"round":false},"axis":{"values":["2018-07-02","2018-08-01","2018-09-03","2018-10-01"],"labelExpr":"replace(slice(datum.value,0,7),'-','/')","labelAngle":0,"grid":false,"labelPadding":3},"title":null}}},
{"data":{"values":[{"date":"2018-10-08","v":17,"text":"FX678"}]},"mark":{"type":"text","align":"left","baseline":"middle","font":"Liberation Sans","fontWeight":"bold","fontSize":26,"color":"#d08a2a","opacity":0.4},"encoding":{"x":{"field":"date","type":"ordinal","title":null},"y":{"field":"v","type":"quantitative","scale":{"domain":[-11,145],"nice":false,"zero":false},"axis":{"values":[0,20,50,80,100],"format":"d","grid":true},"title":null},"text":{"field":"text"}}},
{"data":{"values":[{"date":"2018-10-18","v":17,"text":"汇通网"}]},"mark":{"type":"text","align":"left","baseline":"middle","font":"Noto Sans CJK SC","fontWeight":"bold","fontSize":26,"color":"#4a80c8","opacity":0.35,"dx":4},"encoding":{"x":{"field":"date","type":"ordinal","title":null},"y":{"field":"v","type":"quantitative","title":null},"text":{"field":"text"}}},
{"data":{"values":[{"date":"2018-10-03","v":17}]},"mark":{"type":"point","shape":"circle","size":800,"filled":false,"stroke":"#b0601a","strokeWidth":5,"opacity":0.4},"encoding":{"x":{"field":"date","type":"ordinal","title":null},"y":{"field":"v","type":"quantitative","title":null}}},
{"data":{"name":"k"},"mark":{"type":"line","color":"#ff00ff","strokeWidth":1},"encoding":{"x":{"field":"date","type":"ordinal","title":null},"y":{"field":"J","type":"quantitative","title":null}}},
{"data":{"name":"k"},"mark":{"type":"line","color":"#e6e600","strokeWidth":1},"encoding":{"x":{"field":"date","type":"ordinal","title":null},"y":{"field":"D","type":"quantitative","title":null}}},
{"data":{"name":"k"},"mark":{"type":"line","color":"#ffffff","strokeWidth":1},"encoding":{"x":{"field":"date","type":"ordinal","title":null},"y":{"field":"K","type":"quantitative","title":null}}},
{"data":{"values":[{"date":"2018-06-11","text":"KDJ(9,3,3)⌄","series":"KDJ"},{"date":"2018-06-21","text":"K 76.92","series":"K"},{"date":"2018-06-29","text":"D 77.99","series":"D"},{"date":"2018-07-09","text":"J 74.78","series":"J"}]},"mark":{"type":"text","align":"left","baseline":"middle","fontSize":11},"encoding":{"x":{"field":"date","type":"ordinal","title":null},"y":{"datum":128.8,"type":"quantitative"},"text":{"field":"text"},"color":{"field":"series","type":"nominal","scale":{"domain":["KDJ","K","D","J"],"range":["#e6e600","#e8e8e8","#e6e600","#ff00ff"]},"legend":null}}},
{"data":{"values":[{"date":"2018-10-24","v":80.2}]},"mark":{"type":"point","shape":"M-1,0A1,0.54,0,1,1,1,0A1,0.54,0,1,1,-1,0Z","size":2916,"filled":false,"stroke":"#ff2a2a","strokeWidth":2.5,"opacity":1},"encoding":{"x":{"field":"date","type":"ordinal","title":null},"y":{"field":"v","type":"quantitative","title":null}}}
]
}
],
"config":{
"view":{"stroke":"#d42020","strokeWidth":1},
"concat":{"spacing":0},
"axis":{"domain":false,"ticks":false,"labelColor":"#a8a8a8","labelFont":"DejaVu Sans","labelFontSize":11,"labelPadding":3,"gridColor":"#a00000","gridDash":[1,2],"gridWidth":1},
"axisY":{"minExtent":54,"maxExtent":54},
"axisX":{"minExtent":22,"maxExtent":22},
"text":{"font":"DejaVu Sans","fontSize":11}
}
}
